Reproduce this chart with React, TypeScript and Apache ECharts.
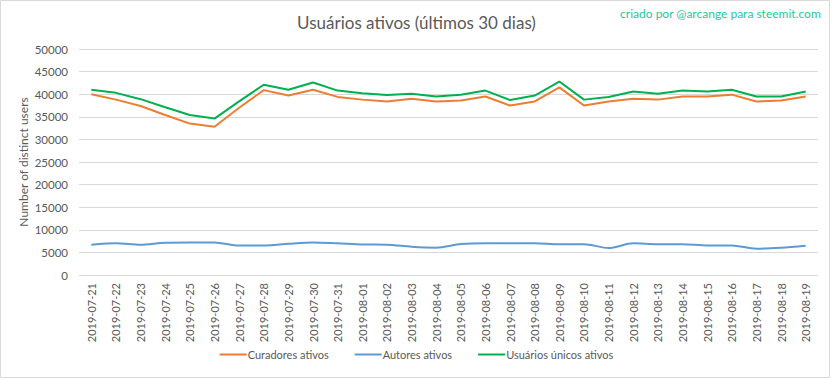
import React, { useEffect, useRef } from "react";
import * as echarts from "echarts";

const categories = [
  "2019-07-21", "2019-07-22", "2019-07-23", "2019-07-24", "2019-07-25", "2019-07-26",
  "2019-07-27", "2019-07-28", "2019-07-29", "2019-07-30", "2019-07-31", "2019-08-01",
  "2019-08-02", "2019-08-03", "2019-08-04", "2019-08-05", "2019-08-06", "2019-08-07",
  "2019-08-08", "2019-08-09", "2019-08-10", "2019-08-11", "2019-08-12", "2019-08-13",
  "2019-08-14", "2019-08-15", "2019-08-16", "2019-08-17", "2019-08-18", "2019-08-19",
];

const curadores = [
  40000, 38800, 37400, 35400, 33500, 32800, 37000, 40900, 39700, 41000,
  39400, 38800, 38400, 39000, 38400, 38600, 39500, 37500, 38400, 41500,
  37500, 38400, 39000, 38800, 39500, 39500, 39900, 38400, 38600, 39500,
];

const autores = [
  6700, 7000, 6700, 7150, 7200, 7200, 6500, 6500, 6900, 7200,
  7000, 6750, 6700, 6250, 6050, 6850, 7050, 7050, 7050, 6800,
  6800, 5970, 7000, 6800, 6800, 6550, 6550, 5820, 6050, 6480,
];

const unicos = [
  41000, 40300, 38900, 37100, 35400, 34600, 38400, 42100, 41000, 42600,
  40800, 40200, 39800, 40100, 39500, 39900, 40800, 38700, 39700, 42800,
  38800, 39400, 40600, 40100, 40800, 40600, 41000, 39500, 39500, 40600,
];

const yMin = 0;
const yMax = 50000;
const yInterval = 5000;

const FONT = "Lato";
const GREY = "#595959";

export default function App() {
  const ref = useRef<HTMLDivElement>(null);
  useEffect(() => {
    document.body.style.margin = "0";
    if (!ref.current) return;
    const chart = echarts.init(ref.current, null, { renderer: "svg" });
    chart.setOption({
      animation: false,
      backgroundColor: "#ffffff",
      textStyle: { fontFamily: FONT },
      title: {
        text: "Usuários ativos (últimos 30 dias)",
        left: "center",
        top: 9,
        textStyle: { fontFamily: FONT, fontSize: 17, fontWeight: "normal", color: GREY },
      },
      graphic: [
        {
          type: "rect",
          shape: { x: 0.5, y: 0.5, width: 829, height: 377 },
          style: { fill: "none", stroke: "#d9d9d9", lineWidth: 1 },
          silent: true,
        },
        {
          type: "text",
          right: 12,
          top: 7,
          style: {
            text: "criado por @arcange para steemit.com",
            fill: "#1fc7a0",
            font: `12px ${FONT}`,
          },
        },
      ],
      legend: {
        bottom: 14,
        left: "center",
        itemWidth: 27,
        itemHeight: 2,
        itemGap: 26,
        icon: "rect",
        textStyle: { fontFamily: FONT, fontSize: 11, color: GREY, padding: [0, 0, 0, -4] },
        data: ["Curadores ativos", "Autores ativos", "Usuários únicos ativos"],
      },
      grid: { left: 79, right: 15, top: 49, bottom: 104 },
      xAxis: {
        type: "category",
        data: categories,
        boundaryGap: true,
        axisLine: { show: false },
        axisTick: { show: false },
        axisLabel: { rotate: 90, fontSize: 11, color: GREY, fontFamily: FONT, margin: 8, interval: 0 },
      },
      yAxis: {
        type: "value",
        min: yMin,
        max: yMax,
        interval: yInterval,
        name: "Number of distinct users",
        nameLocation: "middle",
        nameGap: 50,
        nameMoveOverlap: false,
        nameTextStyle: { fontSize: 12, color: GREY, fontFamily: FONT },
        axisLine: { show: false },
        axisTick: { show: false },
        axisLabel: {
          fontSize: 11.5,
          color: GREY,
          fontFamily: FONT,
          margin: 11,
          formatter: (v: number) => String(v),
        },
        splitLine: { lineStyle: { color: "#d9d9d9", width: 1 } },
      },
      series: [
        {
          name: "Curadores ativos",
          type: "line",
          data: curadores,
          symbol: "none",
          lineStyle: { color: "#ED7D31", width: 2 },
          itemStyle: { color: "#ED7D31" },
        },
        {
          name: "Autores ativos",
          type: "line",
          data: autores,
          symbol: "none",
          smooth: 0.3,
          lineStyle: { color: "#5B9BD5", width: 2 },
          itemStyle: { color: "#5B9BD5" },
        },
        {
          name: "Usuários únicos ativos",
          type: "line",
          data: unicos,
          symbol: "none",
          lineStyle: { color: "#00B050", width: 2 },
          itemStyle: { color: "#00B050" },
        },
      ],
    });
    return () => chart.dispose();
  }, []);
  return <div ref={ref} style={{ width: 833, height: 379 }} />;
}
